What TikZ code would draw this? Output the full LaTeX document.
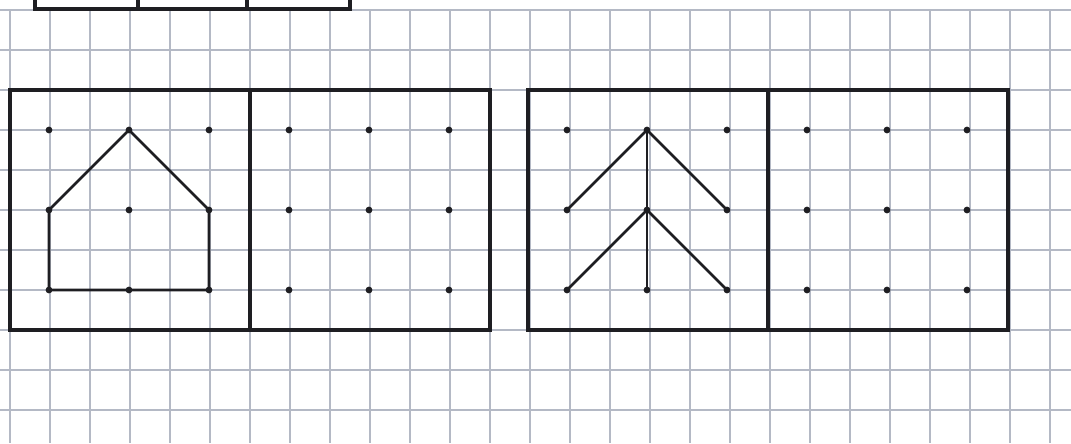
\documentclass[tikz,border=0pt]{standalone}
\definecolor{gridc}{RGB}{180,185,197}
\definecolor{inkc}{RGB}{30,30,34}
\begin{document}
\begin{tikzpicture}[x=0.025cm,y=-0.025cm,
  gridline/.style={draw=gridc,line width=1pt},
  frame/.style={draw=inkc,line width=2.2pt,line join=miter},
  figline/.style={draw=inkc,line width=1.8pt,line join=round,line cap=round},
  dotmark/.style={fill=inkc}]
\useasboundingbox[fill=white] (0,0) rectangle (1071,443);
% grid
\foreach \x in {10,50,...,1050} \draw[gridline] (\x,9) -- (\x,443);
\foreach \y in {10,50,...,410} \draw[gridline] (0,\y) -- (1071,\y);
% top partial boxes
\draw[frame] (35,-5) -- (35,9) -- (350,9) -- (350,-5);
\draw[frame] (138,-5) -- (138,9);
\draw[frame] (247,-5) -- (247,9);
% frames
\draw[frame] (10,90) rectangle (250,330);
\draw[frame] (250,90) rectangle (490,330);
\draw[frame] (528,90) rectangle (768,330);
\draw[frame] (768,90) rectangle (1008,330);
% dots
\foreach \ox in {10,250,528,768}
  \foreach \dx in {40,120,200}
    \foreach \y in {130,210,290}
      \fill[dotmark] (\ox+\dx-1,\y) circle (3.4);
% house
\coordinate (h1) at (49,290);
\coordinate (h2) at (49,210);
\coordinate (h3) at (129,130);
\coordinate (h4) at (209,210);
\coordinate (h5) at (209,290);
\draw[figline] (h1) -- (h2) -- (h3) -- (h4) -- (h5) -- cycle;
% tree
\coordinate (t0) at (647,130);
\coordinate (t1) at (647,210);
\coordinate (t2) at (647,290);
\coordinate (a1) at (567,210);
\coordinate (b1) at (727,210);
\coordinate (a2) at (567,290);
\coordinate (b2) at (727,290);
\draw[figline] (a1) -- (t0) -- (b1);
\draw[figline] (a2) -- (t1) -- (b2);
\draw[figline] (t0) -- (t2);
\end{tikzpicture}
\end{document}
